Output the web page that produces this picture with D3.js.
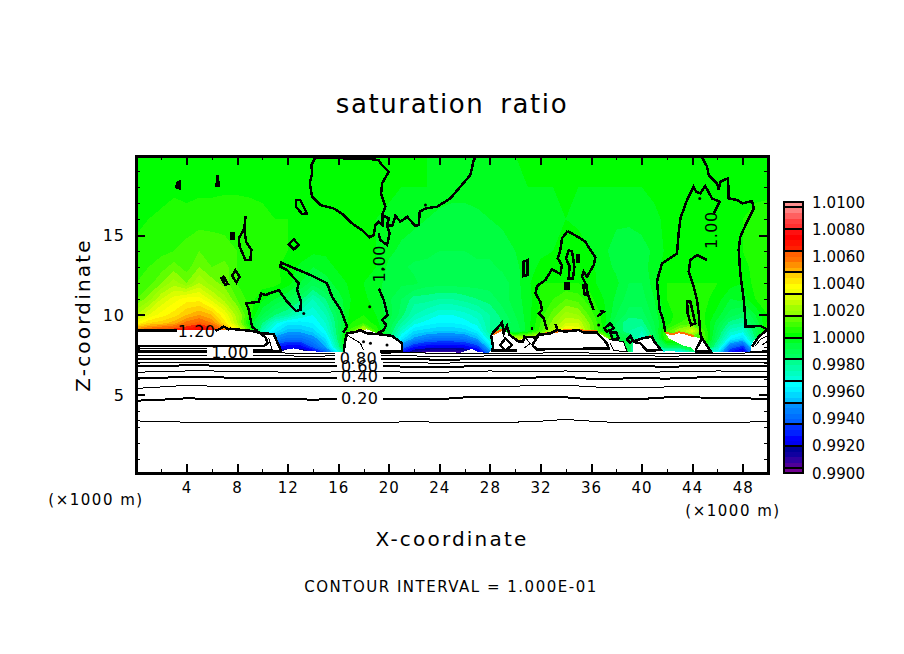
<!DOCTYPE html>
<html>
<head>
<meta charset="utf-8">
<script src="https://cdn.jsdelivr.net/npm/d3@7"></script>
<style>
  body { margin: 0; background: #fff; }
  text { font-family: "DejaVu Sans", sans-serif; fill: #000; }
  .pix { shape-rendering: crispEdges; }
  .domain { display: none; }
  .tick line { stroke: #000; stroke-width: 2px; shape-rendering: crispEdges; }
  .minor .tick line { stroke-width: 1px; }
</style>
</head>
<body>
<svg id="chart" width="904" height="654"></svg>
<script>
// saturation ratio field, in 1e-4 departures from 1.0000, one row per height
const xCols = d3.range(0, 51);
const zRows = [20, 18, 16, 14, 13, 12, 11, 10, 9.5, 9, 8.5, 8, 7.5];
const fieldRows = [
  [2,2,2,2,2,2,2,2,2,2, 2,2,1,1,1,1,1,1,1,1, 0,0,0,0,-1,-1,-1,-1,-1,-1, 0,0,0,0,0,0,0,0,0,0, 0,0,0,0,0,0,0,0,1,1, 1],
  [2,2,2,3,3,3,3,3,3,3, 3,1,1,1,1,1,1,1,1,1, 1,0,0,0,-2,-2,-2,-2,-2,-2, -2,0,0,0,0,0,0,0,0,0, 0,1,1,1,1,1,1,1,2,2, 2],
  [3,4,5,6,5,6,6,7,7,6, 5,4,4,3,2,2,2,1,1,0, -1,-2,-3,-4,-5,-6,-6,-5,-4,-3, -2,-2,-1,-1,0,-1,-2,-2,-3,-3, -2,-1,1,1,1,1,1,2,4,6, 7],
  [5,6,7,8,10,12,11,9,8,7, 6,5,4,3,1,1,2,2,1,0, -3,-5,-6,-7,-8,-8,-8,-7,-7,-6, -4,-3,-1,0,2,2,0,-3,-6,-7, -6,-3,1,2,2,2,2,2,4,7, 8],
  [6,8,10,14,10,16,12,14,8,7, 6,5,2,-1,-4,-2,1,3,2,0, -5,-7,-9,-9,-10,-10,-9,-9,-9,-7, -5,-2,1,2,3,3,1,-2,-5,-7, -6,-2,2,3,3,3,2,0,2,6, 8],
  [8,10,16,22,16,24,18,14,8,7, 6,6,2,-4,-10,-6,-2,1,0,-1, -7,-7,-7,-10,-10,-10,-10,-10,-10,-10, -6,-1,4,4,4,4,2,-3,-3,-8, -8,-2,4,4,4,4,4,2,0,6, 6],
  [12,18,28,34,38,38,30,22,12,6, 1,-4,-8,-14,-24,-16,-6,0,1,-2, -7,-12,-18,-18,-20,-20,-18,-16,-14,-10, -6,-2,4,8,12,10,5,0,-5,-10, -10,-4,4,6,6,5,2,-4,-2,4, 6],
  [24,32,38,42,48,52,48,36,22,6, -8,-16,-20,-28,-32,-24,-10,2,4,0, -6,-14,-24,-28,-32,-32,-30,-26,-20,-14, -8,-2,6,14,22,20,10,2,-8,-14, -14,-6,2,6,8,4,-2,-10,-14,-4, 4],
  [36,44,46,50,58,62,56,42,24,0, -16,-30,-38,-38,-36,-28,-12,4,8,2, -8,-20,-30,-34,-36,-36,-34,-30,-20,-16, -10,-2,8,18,28,28,14,2,-12,-20, -18,-8,2,8,10,4,-6,-18,-20,-8, 6],
  [60,64,68,70,72,76,72,60,40,10, -24,-38,-46,-46,-42,-32,-12,10,30,8, -10,-28,-40,-42,-44,-44,-42,-36,-20,0, -12,-2,10,24,40,36,16,2,-12,-20, -24,-10,10,20,30,8,-10,-26,-30,-12, 10],
  [90,90,90,90,90,90,90,90,60,20, -40,-52,-58,-58,-52,-40,-14,20,20,20, -14,-38,-50,-56,-58,-58,-56,-48,-28,30, 30,30,30,30,30,30,30,30,-5,-8, -32,-14,10,10,10,10,-14,-36,-42,-16, 10],
  [100,100,100,100,100,100,100,100,100,60, -56,-70,-76,-76,-62,-48,-20,20,20,20, -20,-56,-72,-76,-78,-78,-76,-68,-40,30, 30,30,30,30,30,30,30,30,-5,-10, -44,-20,-10,-10,0,0,-24,-58,-68,-30, 10],
  [100,100,100,100,100,100,100,100,100,100, -70,-90,-96,-96,-90,-70,-40,0,0,0, 0,-80,-96,-100,-100,-100,-96,-90,-60,0, 0,0,0,0,0,0,0,0,-8,-12, -60,-40,-50,-50,-30,-30,-40,-80,-90,-50, 0]
];

// colour bar: one colour per 0.0004 band, from 0.9900 up to 1.0100
const bandColors = [
  "#700090",
  "#500098","#3000a0","#1000a0","#000098",
  "#0000f0","#0000ff","#0020ff","#0030ff",
  "#0060ff","#0070ff","#0080ff","#0090ff",
  "#00c0ff","#00d8ff","#00f0ff","#00ffff",
  "#00ffd8","#00ffc0","#00ffa8","#00ff90",
  "#00ff60","#00ff50","#00ff40","#00ff20",
  "#00ff00","#20ff00","#40ff00","#60ff00",
  "#90ff00","#a0ff00","#c0ff00","#d8ff00",
  "#f0ff00","#ffff00","#ffe800","#ffd000",
  "#ffb000","#ff9000","#ff7000","#ff6000",
  "#ff2000","#ff1000","#ff0000","#ff1010",
  "#ff3030","#ff4040","#ff6060","#ff8080",
  "#ff9090"
];
const barSeparators = [0.9904, 0.992, 0.9936, 0.9952, 0.9968, 0.9984, 1.0, 1.0016, 1.0032, 1.0048, 1.0064, 1.008, 1.0096];
const barLabels = [0.99, 0.992, 0.994, 0.996, 0.998, 1.0, 1.002, 1.004, 1.006, 1.008, 1.01];

// out of range areas of the ratio, left white (x km, z km)
const clippedLower = [[0,9.06],[8.92,9.06],[9.97,8.85],[10.9,8.81],[11.21,8.23],[11.48,7.73],[11.95,7.85],[12.48,7.91],[13.27,7.77],[14.33,7.71],[16.43,7.71],[16.57,8.44],[16.7,8.89],[17.49,8.96],[18.28,9.1],[19.07,8.85],[20.26,8.73],[21.05,8.27],[21.13,7.71],[22.76,7.64],[23.82,7.71],[25.66,7.64],[25.92,7.71],[26.58,7.87],[26.98,7.71],[27.9,7.6],[28.25,8.02],[28.17,8.75],[28.96,9.06],[29.48,8.85],[30.14,8.33],[30.67,8.54],[31.86,8.75],[32.78,8.85],[33.97,9.02],[35.02,9.02],[36.47,8.94],[37.26,8.54],[38.58,8.27],[38.85,7.71],[39.32,7.71],[39.32,8.31],[40.69,8.64],[41,8.39],[41.62,7.81],[41.75,7.69],[42.01,7.77],[43.33,7.66],[44.12,7.71],[45.49,7.71],[48.6,7.69],[48.74,8.23],[49.26,8.75],[49.92,9.02],[50,9.05],[50,0],[0,0]];
const clippedPatch = [[41.88,8.89],[42.41,8.75],[42.93,8.89],[43.46,8.81],[44.12,8.64],[44.65,8.54],[45.49,7.71],[44.25,7.71],[43.91,7.98],[43.33,8.06],[42.67,8.33],[42.14,8.54]];

// warm rims along the clipped areas
const rimEdges = [
  [[28.09,8.75],[28.17,8.2]],
  [[28.2,8.78],[28.96,9.08]],
  [[31.9,8.8],[32.78,8.88],[33.97,9.05],[35.02,9.05],[36.47,8.97]],
  [[39.35,8.35],[40.69,8.67],[41,8.42]],
  [[41.88,8.92],[42.41,8.78],[42.93,8.92],[43.46,8.84],[44.12,8.67]]
];

// almost flat contours below the cloud, z at every second km
const lineX = d3.range(0, 51, 2);
const level010 = [3.38,3.33,3.3,3.28,3.3,3.3,3.28,3.3,3.3,3.28,3.3,3.32,3.3,3.3,3.28,3.3,3.36,3.47,3.36,3.28,3.3,3.27,3.27,3.28,3.3,3.33];
const level020 = [4.64,4.7,4.79,4.75,4.73,4.73,4.73,4.71,4.73,4.73,4.73,4.73,4.73,4.85,4.85,4.87,4.87,4.85,4.72,4.75,4.75,4.85,4.85,4.82,4.8,4.73];
const level030 = [5.41,5.5,5.6,5.55,5.52,5.5,5.5,5.52,5.52,5.5,5.52,5.52,5.52,5.55,5.55,5.55,5.6,5.62,5.5,5.48,5.47,5.5,5.5,5.55,5.5,5.52];
const level040 = [6.04,6.08,6.12,6.1,6.08,6.06,6.06,6.06,6.06,6.04,6.04,6.04,6.04,6.06,6.04,6.05,6.1,6.14,6.0,6.02,6.05,6.02,6.08,6.14,6.1,6.12];
const level050 = [6.42,6.46,6.5,6.5,6.46,6.46,6.42,6.42,6.44,6.46,6.46,6.4,6.42,6.46,6.5,6.46,6.46,6.5,6.44,6.42,6.42,6.44,6.46,6.5,6.48,6.48];
const level060 = [6.78,6.82,6.85,6.84,6.8,6.78,6.8,6.82,6.8,6.78,6.8,6.75,6.72,6.78,6.82,6.82,6.8,6.84,6.78,6.78,6.8,6.76,6.8,6.84,6.84,6.84];
const level070 = [7.03,7.04,7.05,7.05,7.03,7.03,7.02,7.0,7.03,7.05,7.04,7.02,6.98,7.02,7.05,7.05,7.05,7.06,7.03,7.02,7.03,7.0,7.04,7.05,7.05,7.06];
const level080 = [7.25,7.25,7.26,7.26,7.25,7.25,7.24,7.24,7.25,7.26,7.25,7.24,7.2,7.22,7.25,7.26,7.26,7.27,7.24,7.24,7.25,7.22,7.25,7.26,7.25,7.27];
const level090 = [7.45,7.45,7.46,7.46,7.45,7.45,7.44,7.42,7.45,7.46,7.45,7.44,7.4,7.42,7.44,7.46,7.47,7.47,7.45,7.44,7.45,7.42,7.45,7.47,7.45,7.47];
const level100 = [7.66,7.66,7.66,7.66,7.66,7.64,7.62,7.6,7.6,7.62,7.62,7.64,7.6,7.6,7.62,7.62,7.62,7.64,7.62,7.6,7.6,7.62,7.62,7.62,7.62,7.64];
const levelSeries = [level010, level020, level030, level040, level050, level060, level070, level080, level090, level100];
const levelThick = [false, true, false, true, false, true, false, true, false, false];

// 1.00 and other contours traced in the cloud layer (x km, z km)
const thickOpen = [
  [[14.19,19.85],[13.88,19.37],[13.93,18.85],[13.75,18.23],[13.93,17.39],[14.59,16.87],[15.64,16.66],[16.43,16.25],[17.09,15.73],[17.88,15.31],[18.49,14.85],[18.81,15],[18.94,15.62],[19.2,15.83],[19.52,15.62],[19.47,16.25],[19.73,16.77],[19.39,17.6],[19.47,18.23],[20,18.96],[19.47,19.37],[19.2,19.68],[18.5,19.75],[14.19,19.85]],
  [[19.47,16.25],[20,16.04],[19.86,15.62],[20.27,15.56],[20.52,16.2],[20.92,15.83],[21.45,16.14],[22.1,15.56],[22.37,15.62],[22.45,16.46],[22.9,16.66],[23.82,16.77],[24.87,17.29],[25.66,18.02],[26.45,18.75],[26.72,19.69],[26.85,19.85]],
  [[19.2,15.1],[19.33,14.69],[19.86,14.37],[20.07,15.1],[19.86,15.62]],
  [[19.2,11.66],[19.6,10.94],[19.9,10],[19.47,9.69],[19.8,9.37],[19.6,9.06],[19.07,8.85]],
  [[8.92,10.31],[8.73,10.73],[9.71,10.83],[9.9,11.35],[10.24,11.25],[11.29,11.56],[11.95,10.83],[12.66,10.25],[13,10.31],[13.06,10.83],[12.74,11.56],[12.87,11.98],[11.95,12.81],[11.42,13.02],[11.48,13.27],[12.22,13.02],[13.8,12.5],[15.11,11.98],[15.51,11.14],[16.04,10.52],[16.2,10.31],[16.7,9.27],[16.4,8.9]],
  [[8.92,10.31],[9.18,9.27],[9.6,9]],
  [[34.15,15.25],[33.7,14.79],[33.57,14.06],[33.36,13.54],[33.7,13.12],[33.57,12.56],[32.91,12.85],[32.39,12.19],[31.73,11.81],[31.6,11.35],[31.99,10.83],[32.12,10.31],[31.86,10.1],[32.25,9.79],[32.52,9.06]],
  [[34.15,15.25],[35.02,14.85],[35.55,14.58],[35.95,14.06],[36.34,13.6],[36.21,13.12],[35.68,12.39],[35.42,12.71],[35.29,12.39],[35.55,11.98],[35.81,11.14],[36.21,10.31]],
  [[36.47,9.89],[37,10.2],[36.74,10.27]],
  [[44.78,19.85],[45.18,19.27],[45.31,18.75],[45.97,18.23],[46.1,17.81],[46.23,18.33],[46.81,18.54],[46.89,17.81],[46.89,17.29],[47.55,17.19],[47.95,16.98],[48.74,17.12],[48.87,16.66],[48.34,15.83],[47.81,14.89],[47.68,14.06],[47.81,12.6],[48.08,10.94],[48.21,9.69],[48.21,9.27],[49.4,9.31],[49.92,9.1],[50,9.1]],
  [[45.7,16.35],[46.18,17.08],[45.57,17.29],[45.04,18.06],[44.65,17.6],[44.31,17.71],[44.12,18.02],[43.91,17.71],[43.6,17.19],[43.07,16.04],[42.93,15.1],[42.8,13.85],[41.62,13.23],[41.35,12.5],[41.22,12.08],[41.43,10.31],[41.7,9.69],[41.88,8.96]],
  [[45.18,13.44],[44.38,13.75],[43.86,13.44],[43.73,12.71],[44.12,11.77],[44.38,10.94],[44.52,10.1],[44.65,8.85],[44.78,8.54]],
  [[44.25,7.77],[44.78,8.54],[45.49,7.71],[44.25,7.71]],
  [[0,9.02],[3.25,9.02]],
  [[6.28,9.02],[6.55,9.1],[6.94,9.27],[7.34,9.1],[7.47,9.14],[8.92,9.02],[9.45,8.96],[9.84,8.85],[10.24,8.6],[10.42,8.23],[10.11,8.06],[0,8.06]],
  [[0,7.77],[2.5,7.72],[5.9,7.71]],
  [[8.92,7.71],[11.29,7.71],[11.48,7.77],[11.21,8.23],[10.9,8.81],[9.97,8.85],[9.5,8.96]],
  [[16.43,7.71],[16.57,8.44],[16.7,8.85],[17.49,8.96],[17.7,9.06],[18.28,8.85],[19.07,8.81],[20.26,8.69],[21.05,8.23],[21.05,7.71],[19.3,7.71]],
  [[28.09,8.75],[28.96,9.52],[29.09,8.85],[29.35,9.31],[29.56,8.75],[30.28,8.33],[30.62,8.33],[30.72,8.64],[31.59,8.6],[31.99,8.85]],
  [[28.09,8.75],[28.25,8.02],[28.17,7.77],[30.14,7.77]],
  [[31.33,8.12],[31.86,8.75],[32.78,8.85],[33.31,9.06],[33.97,8.96],[35.02,9.06],[35.42,8.89],[36.47,8.89],[37.26,8.23],[37.4,7.91],[31.73,7.85],[31.33,8.12]],
  [[39.32,8.33],[40.03,8.54],[40.82,8.64],[41,8.33],[41.54,7.81],[40.43,7.77],[39.9,8.23],[39.32,8.33]],
  [[48.74,8.02],[49.26,8.64],[49.92,9.06]],
  [[33.18,9.44],[33.36,9.06]],
  [[31.33,9.27],[31.33,9.06]]
];
const thinOpen = [
  [[0,7.9],[3.25,7.9],[6,7.9],[10.77,7.85],[10.5,8.54]],
  [[16.7,8.75],[17.76,8.23],[18,7.81]],
  [[30.67,7.91],[31.2,8.23],[30.72,8.64]],
  [[37.4,8.48],[38.58,8.33],[38.85,7.71],[37.79,7.77],[37.53,8.23]],
  [[49,8.06],[49.4,8.48],[49.92,8.69]],
  [[48.6,7.71],[50,7.71]],
  [[49.53,8.12],[49.92,8.33]],
  [[49.53,7.81],[50,7.81]]
];
const closedLoops = [
  [[3.25,18.27],[3.46,18.33],[3.46,17.91],[3.2,17.98]],
  [[6.47,18.75],[6.54,18.06],[6.36,18.06]],
  [[12.66,17.19],[13,17.19],[13.53,16.35],[13.14,16.31],[12.66,16.77]],
  [[7.52,15.1],[7.73,15.1],[7.73,14.79],[7.52,14.79]],
  [[8.66,16.2],[8.58,15.41],[8.13,14.79],[8.2,14.27],[8.66,13.44],[9.05,13.44],[9.13,14.06],[8.71,14.58],[8.58,15.31]],
  [[12.08,14.41],[12.48,14.73],[12.87,14.37],[12.48,14.1]],
  [[7.6,12.44],[7.86,12.81],[8.2,12.39],[7.94,12.04]],
  [[6.76,12.29],[6.94,12.39],[7.26,11.94],[7.07,11.87]],
  [[34.23,14.06],[34.02,13.54],[34.31,13.02],[34.23,12.29],[34.57,12.29],[34.68,13.02],[34.5,13.96]],
  [[34.89,13.75],[35.02,13.75],[35.02,13.33],[34.89,13.33]],
  [[30.67,13.33],[30.99,13.44],[30.99,12.5],[30.67,12.44]],
  [[33.97,11.96],[34.23,11.96],[34.23,11.66],[33.97,11.66]],
  [[35.37,11.87],[35.68,11.87],[35.68,11.25],[35.5,11.25]],
  [[43.6,10.83],[43.86,10.83],[44.25,9.47],[43.91,9.37],[43.65,10.1]],
  [[28.83,8.12],[29.22,8.54],[29.75,8.12],[29.22,7.77]],
  [[37.05,9.16],[37.53,9.48],[37.79,9.16],[37.26,8.96]],
  [[37.53,8.89],[38,8.89],[38.19,8.54],[37.71,8.48]],
  [[38.85,8.48],[39.11,8.69],[39.32,8.39],[39.06,8.27]]
];
const contourDots = [[13.27,10.1],[18.49,10.52],[22.9,16.87],[19.52,12.87],[44.6,17.29],[36.6,9.37],[19.86,8.12],[18.55,8.23],[18,8.33]];

// contour labels, with rotated ones read upward
const contourLabels = [
  { text: "1.20", x: 4.8, z: 9.0, rotate: 0, gap: false },
  { text: "1.00", x: 7.45, z: 7.7, rotate: 0, gap: true },
  { text: "0.80", x: 17.6, z: 7.3, rotate: 0, gap: true },
  { text: "0.60", x: 17.7, z: 6.8, rotate: 0, gap: true },
  { text: "0.40", x: 17.7, z: 6.15, rotate: 0, gap: true },
  { text: "0.20", x: 17.7, z: 4.8, rotate: 0, gap: true },
  { text: "1.00", x: 19.25, z: 13.2, rotate: -90, gap: false },
  { text: "1.00", x: 45.5, z: 15.3, rotate: -90, gap: false }
];

const xMajor = d3.range(4, 49, 4);
const xMinor = d3.range(2, 50, 2);
const zMajor = [5, 10, 15];
const zMinor = d3.range(1, 20);

const svg = d3.select("#chart");
const plotLeft = 136, plotRight = 768, plotTop = 156, plotBottom = 473;

let xScale = d3.scaleLinear().domain([0, 50]).range([plotLeft, plotRight]);
let zScale = d3.scaleLinear().domain([0.12, 19.94]).range([plotBottom, plotTop]);

// filled field, the grid is not even in z so go through index scales
let colIndex = d3.scaleLinear().domain(xCols.map((d, i) => i)).range(xCols).clamp(true);
let rowIndex = d3.scaleLinear().domain(zRows.map((d, i) => i)).range(zRows).clamp(true);
let gridPath = d3.geoPath(d3.geoTransform({
  point: function (x, y) {
    this.stream.point(xScale(colIndex(x - 0.5)), zScale(rowIndex(y - 0.5)));
  }
}));

svg.append("clipPath").attr("id", "plotClip").append("rect")
  .attr("x", plotLeft).attr("y", plotTop)
  .attr("width", plotRight - plotLeft).attr("height", plotBottom - plotTop);

let plot = svg.append("g").attr("clip-path", "url(#plotClip)");

let bandStart = bandColors.map((d, i) => -100 + i * 4);
let contourMaker = d3.contours().size([xCols.length, zRows.length]).smooth(true);
let flatField = fieldRows.flat();

plot.append("rect").attr("class", "pix")
  .attr("x", plotLeft).attr("y", plotTop)
  .attr("width", plotRight - plotLeft).attr("height", plotBottom - plotTop)
  .attr("fill", bandColors[0]);

bandStart.forEach((t, i) => {
  plot.append("path").attr("class", "pix")
    .attr("d", gridPath(contourMaker.contour(flatField, t)))
    .attr("fill", bandColors[i]);
});

let polyLine = d3.line().x(d => xScale(d[0])).y(d => zScale(d[1]));
let loopLine = d3.line().x(d => xScale(d[0])).y(d => zScale(d[1])).curve(d3.curveLinearClosed);

// white clipped regions and their rims
plot.append("path").attr("class", "pix").attr("d", loopLine(clippedLower)).attr("fill", "#fff");
plot.append("path").attr("class", "pix").attr("d", loopLine(clippedPatch)).attr("fill", "#fff");
rimEdges.forEach(edge => {
  plot.append("path").attr("class", "pix")
    .attr("d", polyLine(edge))
    .attr("fill", "none").attr("stroke", "#ff7000").attr("stroke-width", 2);
});

// flat low contours
levelSeries.forEach((series, i) => {
  plot.append("path").attr("class", "pix")
    .attr("d", polyLine(series.map((z, j) => [lineX[j], z])))
    .attr("fill", "none").attr("stroke", "#000")
    .attr("stroke-width", levelThick[i] ? 2 : 1);
});

thinOpen.forEach(pts => {
  plot.append("path").attr("class", "pix").attr("d", polyLine(pts))
    .attr("fill", "none").attr("stroke", "#000").attr("stroke-width", 1);
});
thickOpen.forEach(pts => {
  plot.append("path").attr("class", "pix").attr("d", polyLine(pts))
    .attr("fill", "none").attr("stroke", "#000").attr("stroke-width", 2.5);
});
closedLoops.forEach(pts => {
  plot.append("path").attr("class", "pix").attr("d", loopLine(pts))
    .attr("fill", "none").attr("stroke", "#000").attr("stroke-width", 2.5);
});
plot.selectAll("circle.dot").data(contourDots).enter().append("circle")
  .attr("class", "dot")
  .attr("cx", d => xScale(d[0])).attr("cy", d => zScale(d[1]))
  .attr("r", 1.5).attr("fill", "#000");

// line labels
contourLabels.filter(d => d.gap).forEach(d => {
  plot.append("rect").attr("class", "pix")
    .attr("x", xScale(d.x) - 23).attr("y", zScale(d.z) - 5)
    .attr("width", 46).attr("height", 10).attr("fill", "#fff");
});
contourLabels.forEach(d => {
  svg.append("text")
    .attr("transform", `translate(${xScale(d.x)},${zScale(d.z)}) rotate(${d.rotate})`)
    .attr("text-anchor", "middle").attr("dy", "0.37em")
    .style("font-size", "16px").style("letter-spacing", "0.5px")
    .text(d.text);
});

// axes, ticks point inward on all four sides
svg.append("g").attr("class", "x-axis")
  .attr("transform", `translate(0,${plotBottom})`)
  .call(d3.axisBottom(xScale).tickValues(xMajor).tickSizeInner(-9).tickSizeOuter(0).tickPadding(9).tickFormat(d3.format("d")))
  .call(g => g.selectAll("text").style("font-size", "15px").style("letter-spacing", "1px"));
svg.append("g").attr("class", "x-axis minor")
  .attr("transform", `translate(0,${plotBottom})`)
  .call(d3.axisBottom(xScale).tickValues(xMinor.filter(d => !xMajor.includes(d))).tickSizeInner(-4).tickSizeOuter(0).tickFormat(""));
svg.append("g").attr("class", "x-axis")
  .attr("transform", `translate(0,${plotTop})`)
  .call(d3.axisTop(xScale).tickValues(xMajor).tickSizeInner(-9).tickSizeOuter(0).tickFormat(""));
svg.append("g").attr("class", "x-axis minor")
  .attr("transform", `translate(0,${plotTop})`)
  .call(d3.axisTop(xScale).tickValues(xMinor.filter(d => !xMajor.includes(d))).tickSizeInner(-4).tickSizeOuter(0).tickFormat(""));

svg.append("g").attr("class", "y-axis")
  .attr("transform", `translate(${plotLeft},0)`)
  .call(d3.axisLeft(zScale).tickValues(zMajor).tickSizeInner(-9).tickSizeOuter(0).tickPadding(11).tickFormat(d3.format("d")))
  .call(g => g.selectAll("text").style("font-size", "16px").style("letter-spacing", "1px"));
svg.append("g").attr("class", "y-axis minor")
  .attr("transform", `translate(${plotLeft},0)`)
  .call(d3.axisLeft(zScale).tickValues(zMinor.filter(d => !zMajor.includes(d))).tickSizeInner(-4).tickSizeOuter(0).tickFormat(""));
svg.append("g").attr("class", "y-axis")
  .attr("transform", `translate(${plotRight},0)`)
  .call(d3.axisRight(zScale).tickValues(zMajor).tickSizeInner(-9).tickSizeOuter(0).tickFormat(""));
svg.append("g").attr("class", "y-axis minor")
  .attr("transform", `translate(${plotRight},0)`)
  .call(d3.axisRight(zScale).tickValues(zMinor.filter(d => !zMajor.includes(d))).tickSizeInner(-4).tickSizeOuter(0).tickFormat(""));

svg.append("rect").attr("class", "pix")
  .attr("x", plotLeft).attr("y", plotTop)
  .attr("width", plotRight - plotLeft).attr("height", plotBottom - plotTop)
  .attr("fill", "none").attr("stroke", "#000").attr("stroke-width", 3);

// colour bar
let barScale = d3.scaleLinear().domain([0.99, 1.01]).range([473, 202]);
let bar = svg.append("g");
bandColors.forEach((c, i) => {
  bar.append("rect").attr("class", "pix")
    .attr("x", 784).attr("width", 19)
    .attr("y", barScale(0.99 + (i + 1) * 0.0004))
    .attr("height", barScale(0.99) - barScale(0.9904) + 0.5)
    .attr("fill", c);
});
barSeparators.forEach(d => {
  bar.append("line").attr("class", "pix")
    .attr("x1", 784).attr("x2", 803)
    .attr("y1", barScale(d)).attr("y2", barScale(d))
    .attr("stroke", "#000").attr("stroke-width", 2);
});
bar.append("rect").attr("class", "pix")
  .attr("x", 784).attr("y", 202).attr("width", 19).attr("height", 271)
  .attr("fill", "none").attr("stroke", "#000").attr("stroke-width", 2);
barLabels.forEach(d => {
  bar.append("text")
    .attr("x", 812).attr("y", barScale(d)).attr("dy", "0.37em")
    .style("font-size", "15px").style("letter-spacing", "0.1px")
    .text(d3.format(".4f")(d));
});

// titles
svg.append("text").attr("x", 452).attr("y", 113).attr("text-anchor", "middle")
  .style("font-size", "26px").style("letter-spacing", "1.6px").style("word-spacing", "6px").text("saturation ratio");
svg.append("text").attr("x", 452).attr("y", 546).attr("text-anchor", "middle")
  .style("font-size", "20px").style("letter-spacing", "2.2px").text("X-coordinate");
svg.append("text").attr("transform", "translate(90,315) rotate(-90)").attr("text-anchor", "middle")
  .style("font-size", "20px").style("letter-spacing", "2.2px").text("Z-coordinate");
svg.append("text").attr("x", 96).attr("y", 505).attr("text-anchor", "middle")
  .style("font-size", "15px").style("letter-spacing", "1.5px").text("(×1000 m)");
svg.append("text").attr("x", 733).attr("y", 516).attr("text-anchor", "middle")
  .style("font-size", "15px").style("letter-spacing", "1.5px").text("(×1000 m)");
svg.append("text").attr("x", 451).attr("y", 592).attr("text-anchor", "middle")
  .style("font-size", "15px").style("letter-spacing", "1.5px").text("CONTOUR INTERVAL = 1.000E-01");
</script>
</body>
</html>
